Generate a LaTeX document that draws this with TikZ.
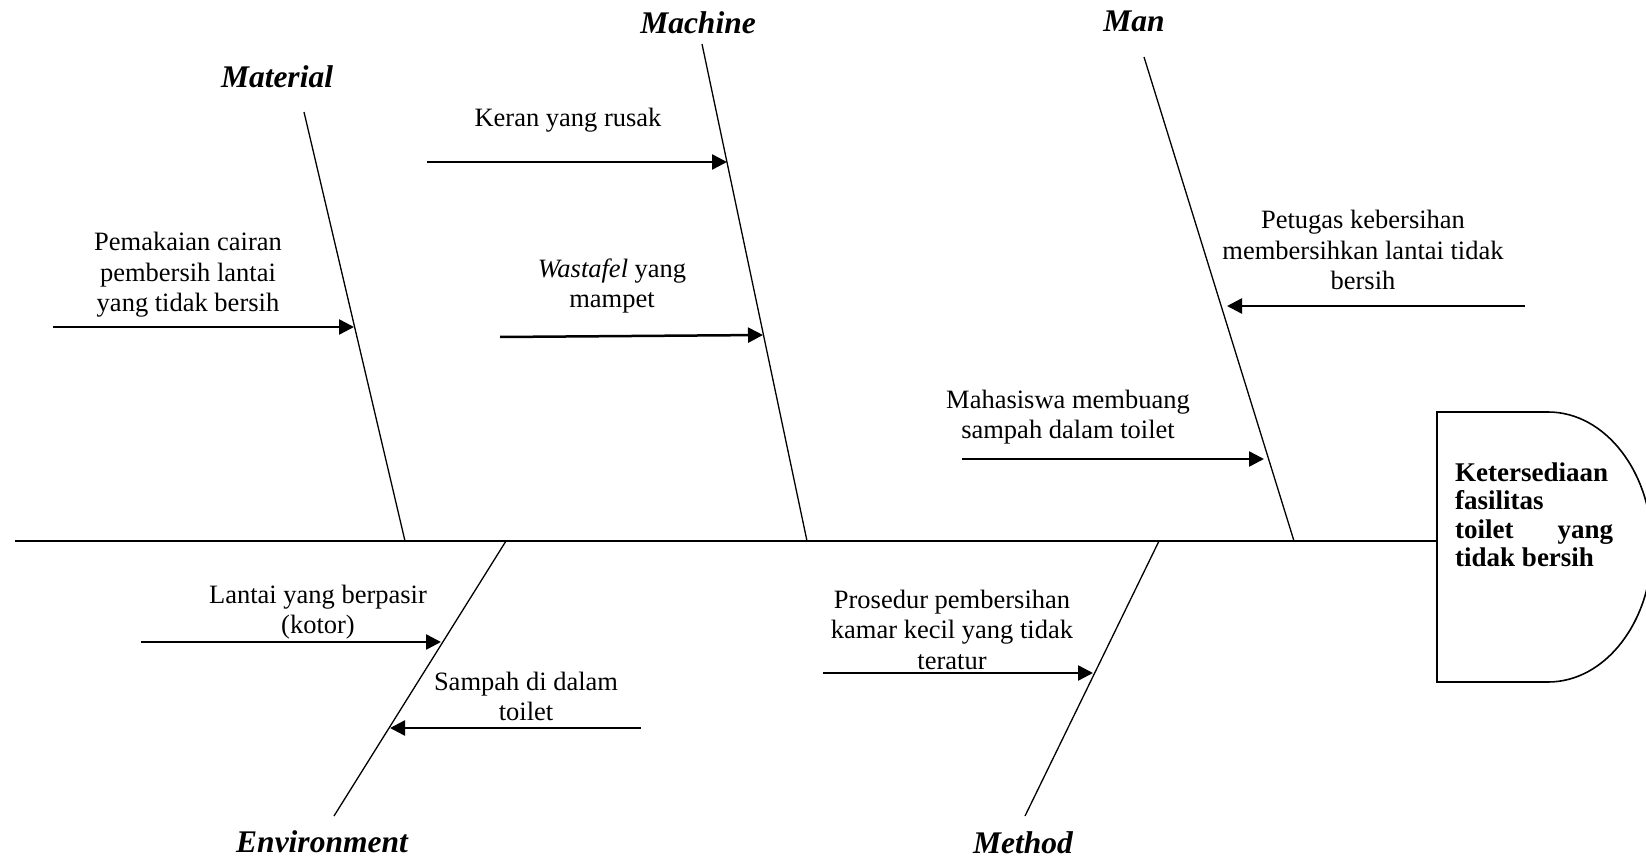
\documentclass[tikz,border=0pt]{standalone}
\usepackage{fontspec}
\setmainfont{Liberation Serif}
\usetikzlibrary{arrows.meta}
\begin{document}
\begin{tikzpicture}[x=1pt,y=-1pt,
  bone/.style={line width=1.3pt},
  spine/.style={line width=2.2pt},
  headline/.style={line width=1.6pt},
  cause/.style={line width=2.5pt,-{Triangle[length=15pt,width=15pt]}},
  txt/.style={anchor=base,inner sep=0pt,font=\fontsize{26.5}{30.5}\selectfont},
  cat/.style={anchor=base,inner sep=0pt,font=\fontsize{31.5}{36}\selectfont\bfseries\itshape},
  headtxt/.style={anchor=base west,inner sep=0pt,font=\fontsize{27}{28.5}\selectfont\bfseries}]
\useasboundingbox (0,0) rectangle (1646,861);
\clip (0,0) rectangle (1646,861);

% head
\coordinate (hl) at (1437,541);
\draw[headline] (1437,412) -- (1548,412)
  .. controls (1605.4,412) and (1652,472.4) .. (1652,547)
  .. controls (1652,621.6) and (1605.4,682) .. (1548,682)
  -- (1437,682) -- cycle;
\node[headtxt] (head) at (1455,481) {\begin{tabular}[t]{@{}l@{}}Ketersediaan\\ fasilitas\\ \hbox to 158pt{toilet\hfill yang}\\ tidak bersih\end{tabular}};

% spine
\coordinate (tail) at (15,541);
\draw[spine] (tail) -- (hl);

% bones
\coordinate (mat1) at (304,112); \coordinate (mat2) at (405,541);
\coordinate (mac1) at (702,44);  \coordinate (mac2) at (807,541);
\coordinate (man1) at (1144,57); \coordinate (man2) at (1294,541);
\coordinate (env1) at (506,541); \coordinate (env2) at (334,816);
\coordinate (met1) at (1159,541); \coordinate (met2) at (1025,816);
\draw[bone] (mat1) -- (mat2);
\draw[bone] (mac1) -- (mac2);
\draw[bone] (man1) -- (man2);
\draw[bone] (env1) -- (env2);
\draw[bone] (met1) -- (met2);

% category labels
\node[cat] (lmat) at (277,88) {Material};
\node[cat] (lmac) at (698,34) {Machine};
\node[cat] (lman) at (1134,32) {Man};
\node[cat] (lenv) at (322,852) {Environment};
\node[cat] (lmet) at (1023,853) {Method};

% cause texts
\node[txt] (c1) at (188,251) {\begin{tabular}[t]{@{}c@{}}Pemakaian cairan\\ pembersih lantai\\ yang tidak bersih\end{tabular}};
\node[txt] (c2) at (568,127) {Keran yang rusak};
\node[txt] (c3) at (612,277) {\begin{tabular}[t]{@{}c@{}}\textit{Wastafel} yang\\ mampet\end{tabular}};
\node[txt] (c4) at (1363,229) {\begin{tabular}[t]{@{}c@{}}Petugas kebersihan\\ membersihkan lantai tidak\\ bersih\end{tabular}};
\node[txt] (c5) at (1068,408) {\begin{tabular}[t]{@{}c@{}}Mahasiswa membuang\\ sampah dalam toilet\end{tabular}};
\node[txt] (c6) at (318,603) {\begin{tabular}[t]{@{}c@{}}Lantai yang berpasir\\ (kotor)\end{tabular}};
\node[txt] (c7) at (526,690) {\begin{tabular}[t]{@{}c@{}}Sampah di dalam\\ toilet\end{tabular}};
\node[txt] (c8) at (952,608) {\begin{tabular}[t]{@{}c@{}}Prosedur pembersihan\\ kamar kecil yang tidak\\ teratur\end{tabular}};

% cause arrows
\coordinate (a1s) at (53,327);   \coordinate (a1t) at (354,327);
\coordinate (a2s) at (427,162);  \coordinate (a2t) at (727,162);
\coordinate (a3s) at (500,337);  \coordinate (a3t) at (763,335);
\coordinate (a4s) at (1525,306); \coordinate (a4t) at (1227,306);
\coordinate (a5s) at (962,459);  \coordinate (a5t) at (1264,459);
\coordinate (a6s) at (141,642);  \coordinate (a6t) at (441,642);
\coordinate (a7s) at (641,728);  \coordinate (a7t) at (390,728);
\coordinate (a8s) at (823,673);  \coordinate (a8t) at (1093,673);
\foreach \i in {1,...,8} {\draw[cause] (a\i s) -- (a\i t);}
\end{tikzpicture}
\end{document}
